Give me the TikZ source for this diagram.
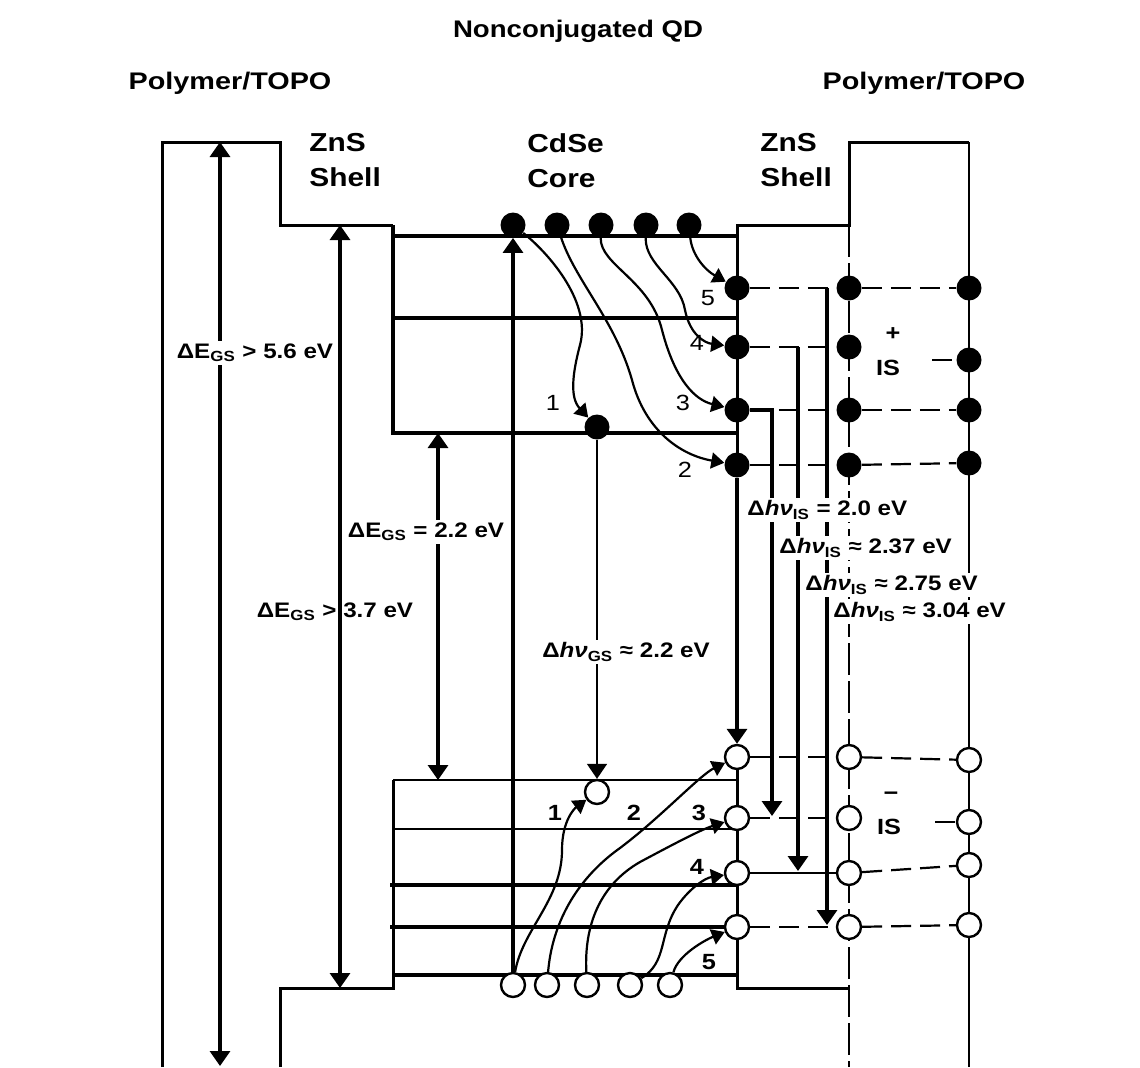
\documentclass[tikz,border=0pt]{standalone}
\usepackage{fontspec}
\setmainfont{Liberation Sans}[FakeStretch=1.15]
\newfontfamily\polyfont{Liberation Sans}[FakeStretch=1.2]
\usetikzlibrary{arrows.meta}
\begin{document}
\begin{tikzpicture}[x=0.5pt,y=-0.5pt,
  band/.style={line width=1.9pt},
  wall/.style={line width=1.5pt},
  fine/.style={line width=0.9pt},
  vline/.style={line width=1.6pt},
  tipend/.style={-{Triangle[length=7.5pt,width=10pt]}},
  tipboth/.style={{Triangle[length=7.5pt,width=10pt]}-{Triangle[length=7.5pt,width=10pt]}},
  hop/.style={line width=1.1pt,-{Triangle[length=6.5pt,width=8pt]}},
  rung/.style={line width=1.1pt,dash pattern=on 10pt off 4.5pt},
  midcol/.style={line width=0.8pt,dash pattern=on 16pt off 3pt},
  elec/.style={circle,fill,inner sep=0pt,minimum size=12.5pt},
  hole/.style={circle,draw,fill=white,line width=1.2pt,inner sep=0pt,minimum size=12pt},
  lbl/.style={font=\bfseries\fontsize{10.5}{12}\selectfont,fill=white,inner sep=1.5pt},
  numtag/.style={font=\fontsize{11}{12}\selectfont,inner sep=0pt},
  boldtag/.style={font=\bfseries\fontsize{11}{12}\selectfont,inner sep=0pt},
  layer/.style={font=\bfseries\fontsize{13}{17.5}\selectfont,align=left,inner sep=0pt,anchor=north west}]
  \fill[white] (0,0) rectangle (1140,1067);
  \useasboundingbox (0,0) rectangle (1140,1067);
  \coordinate (LA) at (162,1067); \coordinate (LB) at (162,142);
  \coordinate (LC) at (280,142); \coordinate (LD) at (280,225);
  \coordinate (LE) at (393,225); \coordinate (LF) at (393,433);
  \coordinate (LG) at (393,780); \coordinate (LH) at (393,988);
  \coordinate (LI) at (280,988); \coordinate (LJ) at (280,1067);
  \coordinate (RA) at (737,225); \coordinate (RB) at (849,225);
  \coordinate (RC) at (849,142); \coordinate (RD) at (969,142);
  \coordinate (RE) at (969,1067); \coordinate (RF) at (849,1067);
  \coordinate (RG) at (737,757); \coordinate (RH) at (737,988);
  \coordinate (RI) at (849,988); \coordinate (RK) at (737,465);
  \draw[wall] (LA)--(LB)--(LC)--(LD)--(LE);
  \draw[band] (LE)--(LF)--(737,433);
  \draw[band] (393,236)--(737,236);
  \draw[band] (393,318)--(737,318);
  \draw[wall] (LG)--(LH)--(LI)--(LJ);
  \draw[wall] (RK)--(RA)--(RB)--(RC)--(RD);
  \draw[fine] (RD)--(RE);
  \draw[midcol] (RB)--(RF);
  \draw[wall] (RG)--(RH)--(RI);
  \draw[line width=1.3pt] (LG)--(737,780);
  \draw[fine] (393,829)--(737,829);
  \draw[band] (390,885)--(737,885);
  \draw[band] (390,927)--(737,927);
  \draw[line width=1.7pt] (393,975)--(737,975);
  \node[elec] (tc1) at (513,225) {}; \node[elec] (tc2) at (557,225) {};
  \node[elec] (tc3) at (601,225) {}; \node[elec] (tc4) at (646,225) {};
  \node[elec] (tc5) at (689,225) {};
  \node[elec] (fr5) at (737,288) {}; \node[elec] (fr4) at (737,347) {};
  \node[elec] (fr3) at (737,410) {}; \node[elec] (fr2) at (737,465) {};
  \node[elec] (fm5) at (849,288) {}; \node[elec] (fm4) at (849,347) {};
  \node[elec] (fm3) at (849,410) {}; \node[elec] (fm2) at (849,465) {};
  \node[elec] (fo5) at (969,288) {}; \node[elec] (fo4) at (969,360) {};
  \node[elec] (fo3) at (969,410) {}; \node[elec] (fo2) at (969,463) {};
  \node[elec] (gs) at (597,427) {};
  \node[hole] (bc1) at (513,985) {}; \node[hole] (bc2) at (547,985) {};
  \node[hole] (bc3) at (587,985) {}; \node[hole] (bc4) at (630,985) {};
  \node[hole] (bc5) at (670,985) {};
  \node[hole] (gv) at (597,792) {};
  \node[hole] (hr2) at (737,757) {}; \node[hole] (hr3) at (737,818) {};
  \node[hole] (hr4) at (737,873) {}; \node[hole] (hr5) at (737,927) {};
  \node[hole] (hm2) at (849,757) {}; \node[hole] (hm3) at (849,818) {};
  \node[hole] (hm4) at (849,873) {}; \node[hole] (hm5) at (849,927) {};
  \node[hole] (ho2) at (969,760) {}; \node[hole] (ho3) at (969,822) {};
  \node[hole] (ho4) at (969,865) {}; \node[hole] (ho5) at (969,925) {};
  \coordinate (g56a) at (220,142); \coordinate (g56b) at (220,1066);
  \coordinate (g37a) at (340,225); \coordinate (g37b) at (340,988);
  \coordinate (g22a) at (438,433); \coordinate (g22b) at (438,780);
  \draw[vline,tipboth] (g56a)--(g56b);
  \draw[vline,tipboth] (g37a)--(g37b);
  \draw[vline,tipboth] (g22a)--(g22b);
  \draw[vline,tipend] (bc1)--(tc1);
  \draw[fine,tipend] (gs)--(gv);
  \draw[rung] (fr5)--(fm5); \draw[rung] (fm5)--(fo5);
  \draw[rung] (fr4)--(fm4); \draw[rung] (932,360)--(fo4);
  \draw[rung] (fr3)--(fm3); \draw[rung] (fm3)--(fo3);
  \draw[rung] (fr2)--(fm2); \draw[rung] (fm2)--(fo2);
  \draw[rung] (hr2)--(hm2); \draw[rung] (hm2)--(ho2);
  \draw[rung] (hr3)--(hm3); \draw[rung] (935,822)--(ho3);
  \draw[fine] (hr4)--(hm4); \draw[rung] (hm4)--(ho4);
  \draw[rung] (hr5)--(hm5); \draw[rung] (hm5)--(ho5);
  \coordinate (k3a) at (772,410); \coordinate (k3b) at (772,816);
  \coordinate (k4a) at (798,347); \coordinate (k4b) at (798,871);
  \coordinate (k5a) at (827,288); \coordinate (k5b) at (827,925);
  \draw[line width=1.7pt,tipend] (fr2)--(hr2);
  \draw[vline,tipend] (fr3)--(k3a)--(k3b);
  \draw[vline,tipend] (k4a)--(k4b);
  \draw[vline,tipend] (k5a)--(k5b);
  \draw[hop] (tc1) .. controls (545,250) and (592,300) .. (580,345) .. controls (572,375) and (570,398) .. (gs);
  \draw[hop] (tc2) .. controls (575,280) and (615,320) .. (632,380) .. controls (645,430) and (680,455) .. (fr2);
  \draw[hop] (tc3) .. controls (600,265) and (650,280) .. (662,330) .. controls (675,380) and (695,400) .. (fr3);
  \draw[hop] (tc4) .. controls (645,265) and (680,280) .. (685,310) .. controls (690,335) and (705,343) .. (fr4);
  \draw[hop] (tc5) .. controls (692,255) and (705,270) .. (fr5);
  \draw[hop] (bc1) .. controls (522,930) and (562,900) .. (562,850) .. controls (562,820) and (575,808) .. (gv);
  \draw[hop] (bc2) .. controls (552,925) and (575,880) .. (620,848) .. controls (660,818) and (700,775) .. (hr2);
  \draw[hop] (bc3) .. controls (584,925) and (600,885) .. (640,862) .. controls (670,846) and (700,830) .. (hr3);
  \draw[hop] (bc4) .. controls (668,962) and (658,935) .. (678,905) .. controls (690,888) and (705,878) .. (hr4);
  \draw[hop] (bc5) .. controls (678,955) and (705,940) .. (hr5);
  \node[font=\bfseries\fontsize{12}{14}\selectfont,anchor=base] (title) at (578,37) {Nonconjugated QD};
  \node[font=\bfseries\polyfont\fontsize{12}{14}\selectfont,anchor=base] (polyL) at (230,89) {Polymer/TOPO};
  \node[font=\bfseries\polyfont\fontsize{12}{14}\selectfont,anchor=base] (polyR) at (924,89) {Polymer/TOPO};
  \node[layer] (shellL) at (309,133) {ZnS\\Shell};
  \node[layer] (core) at (527,133) {CdSe\\Core};
  \node[layer] (shellR) at (760,133) {ZnS\\Shell};
  \node[lbl] (e56) at (255,353) {ΔE\textsubscript{GS} > 5.6 eV};
  \node[lbl] (e22) at (426,532) {ΔE\textsubscript{GS} = 2.2 eV};
  \node[lbl,fill=none] (e37) at (335,612) {ΔE\textsubscript{GS} > 3.7 eV};
  \node[lbl] (egs) at (626,652) {Δ\textit{hν}\textsubscript{GS} ≈ 2.2 eV};
  \node[lbl,anchor=west] (i20) at (744,510) {Δ\textit{hν}\textsubscript{IS} = 2.0 eV};
  \node[lbl,anchor=west] (i237) at (776,548) {Δ\textit{hν}\textsubscript{IS} ≈ 2.37 eV};
  \node[lbl,anchor=west] (i275) at (802,585) {Δ\textit{hν}\textsubscript{IS} ≈ 2.75 eV};
  \node[lbl,anchor=west] (i304) at (830,612) {Δ\textit{hν}\textsubscript{IS} ≈ 3.04 eV};
  \node[numtag] (n1) at (553,403) {1}; \node[numtag] (n2) at (685,470) {2};
  \node[numtag] (n3) at (683,403) {3}; \node[numtag] (n4) at (697,343) {4};
  \node[numtag] (n5) at (708,298) {5};
  \node[boldtag] (m1) at (555,813) {1}; \node[boldtag] (m2) at (634,813) {2};
  \node[boldtag] (m3) at (699,813) {3}; \node[boldtag] (m4) at (697,867) {4};
  \node[boldtag] (m5) at (709,962) {5};
  \node[boldtag] (plus) at (893,334) {+}; \node[boldtag] (isp) at (888,368) {IS};
  \node[boldtag] (minus) at (891,796) {−}; \node[boldtag] (ism) at (889,827) {IS};
\end{tikzpicture}
\end{document}
